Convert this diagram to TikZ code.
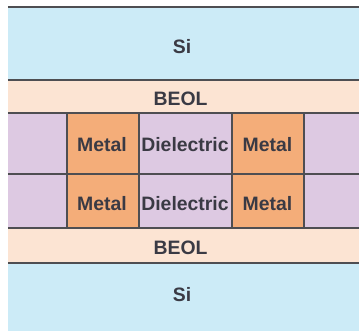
\documentclass[tikz,border=0pt]{standalone}
\usepackage{fontspec}
\setmainfont{Liberation Sans}
\definecolor{si}{RGB}{204,235,247}
\definecolor{beol}{RGB}{252,228,211}
\definecolor{diel}{RGB}{221,201,226}
\definecolor{metal}{RGB}{244,173,121}
\definecolor{edge}{RGB}{78,78,82}
\definecolor{txt}{RGB}{58,58,68}
\begin{document}
\begin{tikzpicture}[x=1pt,y=-1pt,
  lbl/.style={text=txt,font=\fontsize{19.4}{21}\selectfont\bfseries,inner sep=0pt},
  ln/.style={draw=edge,line width=1.6pt}]
\useasboundingbox (0,0) rectangle (360,332);
% layers
\fill[si] (8,7) rectangle (359,80);
\fill[beol] (8,80) rectangle (359,113);
\fill[diel] (8,113) rectangle (359,228);
\fill[beol] (8,228) rectangle (359,263);
\fill[si] (8,263) rectangle (359,331);
\fill[metal] (67,113) rectangle (139,228);
\fill[metal] (232,113) rectangle (304,228);
% lines
\draw[ln] (8,7) -- (359,7);
\draw[ln] (8,80) -- (359,80);
\draw[ln] (8,113) -- (359,113);
\draw[ln] (8,174) -- (359,174);
\draw[ln] (8,228) -- (359,228);
\draw[ln] (8,263) -- (359,263);
\draw[ln] (67,113) -- (67,228);
\draw[ln] (139,113) -- (139,228);
\draw[ln] (232,113) -- (232,228);
\draw[ln] (304,113) -- (304,228);
% labels
\node[lbl] (si1) at (182,46.5) {Si};
\node[lbl] (b1) at (180.5,98.5) {BEOL};
\node[lbl] (m1) at (102,144.5) {Metal};
\node[lbl] (d1) at (185,144.5) {Dielectric};
\node[lbl] (m2) at (267.5,144.5) {Metal};
\node[lbl] (m3) at (102,204) {Metal};
\node[lbl] (d2) at (185,204) {Dielectric};
\node[lbl] (m4) at (267.5,204) {Metal};
\node[lbl] (b2) at (180.5,247.5) {BEOL};
\node[lbl] (si2) at (182,295) {Si};
\end{tikzpicture}
\end{document}
